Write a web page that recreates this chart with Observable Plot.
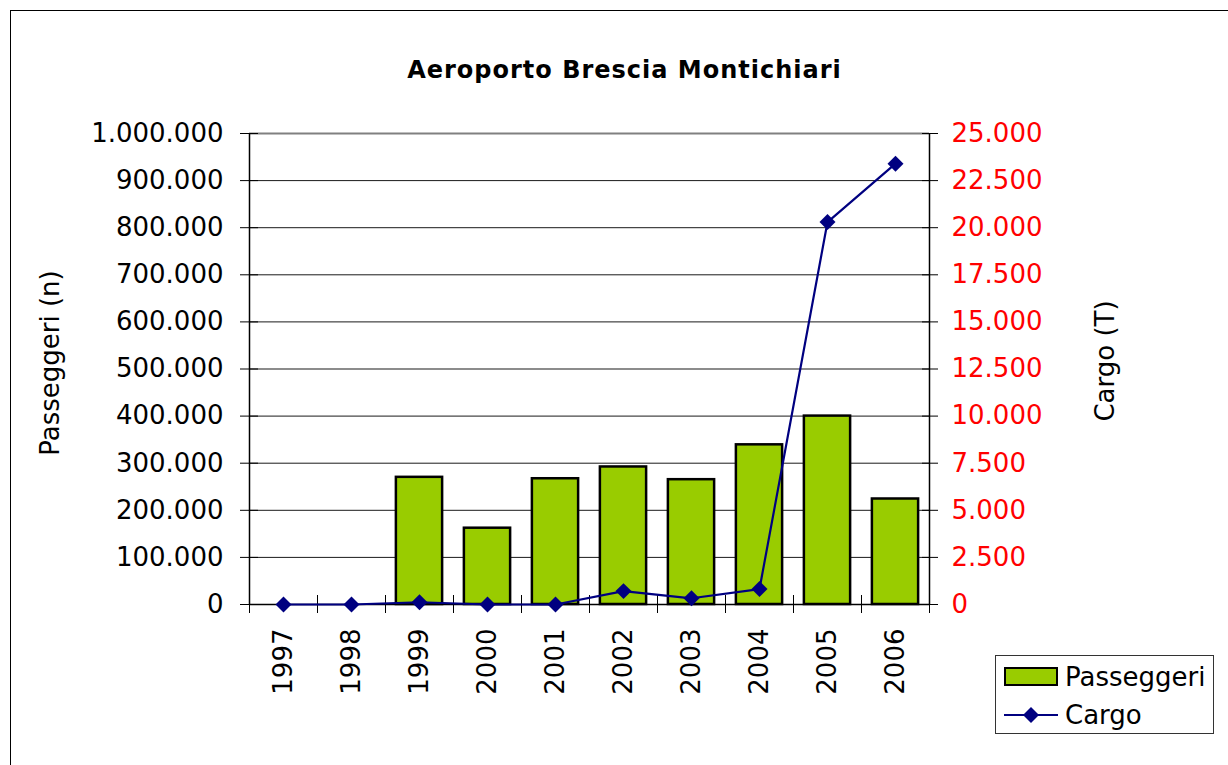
<!DOCTYPE html>
<html>
<head>
<meta charset="utf-8">
<script src="https://cdn.jsdelivr.net/npm/d3@7"></script>
<script src="https://cdn.jsdelivr.net/npm/@observablehq/plot@0.6"></script>
<style>
  html, body { margin: 0; padding: 0; background: #fff; }
  body { width: 1228px; height: 765px; overflow: hidden; position: relative; font-family: "DejaVu Sans", Verdana, sans-serif; }
  #chart { position: absolute; left: 0; top: 0; }
  #border { position: absolute; left: 10px; top: 10px; width: 1300px; height: 900px; border: 1.5px solid #000; box-sizing: border-box; pointer-events: none; }
  #legend { position: absolute; left: 995px; top: 655px; width: 219px; height: 79px; border: 1.5px solid #333; box-sizing: border-box; background: #fff; }
  .lg-row { position: absolute; left: 0; height: 36px; display: flex; align-items: center; }
  .lg-row svg { margin-left: 8px; }
  .lg-row span { margin-left: 7px; font-size: 26px; color: #000; line-height: 1; }
</style>
</head>
<body>
<div id="chart"></div>
<div id="border"></div>
<div id="legend"></div>
<script>
// ---- data ----
const title = "Aeroporto Brescia Montichiari";
const years = [1997, 1998, 1999, 2000, 2001, 2002, 2003, 2004, 2005, 2006];
const passengers = [null, null, 270000, 162000, 267000, 292000, 265000, 339000, 400000, 224000];
const cargo = [0, 0, 120, 0, 0, 710, 330, 820, 20300, 23400];
const seriesNames = ["Passeggeri", "Cargo"];
const leftLabel = "Passeggeri (n)";
const rightLabel = "Cargo (T)";
const leftTicks = [0, 100000, 200000, 300000, 400000, 500000, 600000, 700000, 800000, 900000, 1000000];
const rightMax = 25000;

// ---- derived ----
const leftMax = leftTicks[leftTicks.length - 1];
const ratio = leftMax / rightMax;
const rows = years.map((year, i) => ({year, pass: passengers[i], cargo: cargo[i]}));
const xDomain = [years[0] - 0.5, years[years.length - 1] + 0.5];
const boundaries = d3.range(xDomain[0], xDomain[1] + 0.01, 1);
const fmt = d3.formatLocale({decimal: ",", thousands: ".", grouping: [3], currency: ["", "€"]}).format(",d");

const green = "#99cc00";
const navy = "#000080";

const chart = Plot.plot({
  width: 1228,
  height: 765,
  marginLeft: 249,
  marginRight: 299,
  marginTop: 133,
  marginBottom: 161,
  style: {fontFamily: "'DejaVu Sans', Verdana, sans-serif", fontSize: "26px", background: "transparent", color: "#000", overflow: "visible"},
  x: {type: "linear", domain: xDomain},
  y: {domain: [0, leftMax]},
  marks: [
    Plot.gridY({ticks: leftTicks.filter(t => t > 0 && t < leftMax), stroke: "#000", strokeOpacity: 0.9, strokeWidth: 1}),
    Plot.ruleY([leftMax], {stroke: "#808080", strokeWidth: 2}),
    Plot.rectY(rows.filter(d => d.pass != null), {
      x1: d => d.year - 0.34, x2: d => d.year + 0.34, y1: 0, y2: "pass",
      fill: green, stroke: "#000", strokeWidth: 2.5
    }),
    Plot.ruleX(xDomain, {stroke: "#000", strokeWidth: 1.5}),
    Plot.ruleY([0], {stroke: "#000", strokeWidth: 1.5}),
    Plot.axisY({anchor: "left", ticks: leftTicks, tickFormat: fmt, tickSize: 18, dx: 9, tickPadding: 17, label: null}),
    Plot.axisY({anchor: "right", ticks: leftTicks, tickFormat: d => fmt(d / ratio), tickSize: 16, dx: -8, tickPadding: 14, fill: "#ff0000", label: null}),
    Plot.axisX({ticks: boundaries, tickFormat: () => "", tickSize: 18, dy: -9, label: null}),
    Plot.axisX({ticks: years, tickFormat: d => String(d), tickSize: 0, tickPadding: 24, tickRotate: -90, textAnchor: "end", label: null}),
    Plot.line(rows, {x: "year", y: d => d.cargo * ratio, stroke: navy, strokeWidth: 2.2}),
    Plot.dot(rows, {x: "year", y: d => d.cargo * ratio, symbol: "diamond2", r: 7.2, fill: navy, stroke: null}),
    Plot.text([title], {frameAnchor: "top", lineAnchor: "middle", textAnchor: "middle", dx: 35, dy: -63, fontWeight: "bold", fontSize: 24}),
    Plot.text([leftLabel], {frameAnchor: "left", lineAnchor: "middle", textAnchor: "middle", rotate: -90, dx: -199, dy: -6}),
    Plot.text([rightLabel], {frameAnchor: "right", lineAnchor: "middle", textAnchor: "middle", rotate: -90, dx: 176, dy: -8})
  ]
});
document.getElementById("chart").appendChild(chart);
// widen bold title to match the reference's Verdana-like width
chart.querySelectorAll("text").forEach(t => { if (t.textContent === title) t.setAttribute("letter-spacing", "1"); });

// ---- legend ----
const legend = document.getElementById("legend");
legend.innerHTML = `
  <div class="lg-row" style="top:3px">
    <svg width="54" height="20"><rect x="1" y="1" width="52" height="17" fill="${green}" stroke="#000" stroke-width="2"/></svg>
    <span>${seriesNames[0]}</span>
  </div>
  <div class="lg-row" style="top:41px">
    <svg width="54" height="20"><line x1="0" y1="10" x2="54" y2="10" stroke="${navy}" stroke-width="2.2"/><path d="M27,2 L35,10 L27,18 L19,10 Z" fill="${navy}"/></svg>
    <span>${seriesNames[1]}</span>
  </div>`;
</script>
</body>
</html>
